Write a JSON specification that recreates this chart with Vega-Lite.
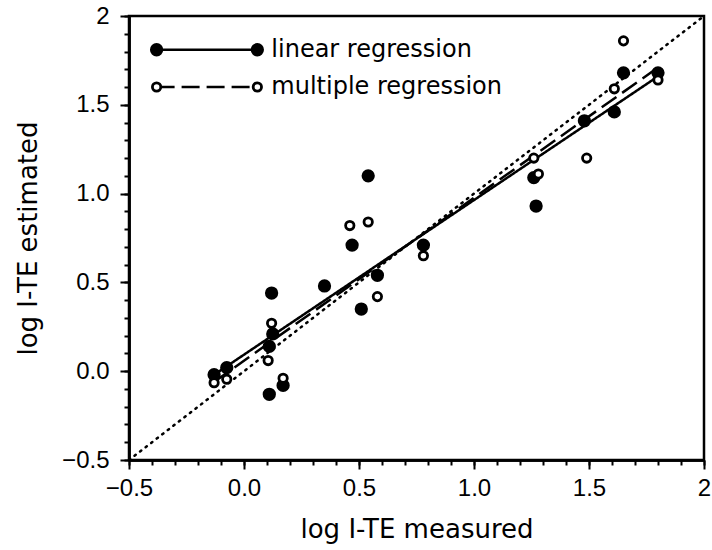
{
  "$schema": "https://vega.github.io/schema/vega-lite/v6.json",
  "width": 575,
  "height": 444,
  "autosize": "none",
  "padding": {"left": 129, "top": 16, "right": 8, "bottom": 90},
  "config": {
    "view": {"stroke": "black", "strokeWidth": 2.5},
    "font": "Liberation Sans",
    "axis": {
      "grid": false,
      "ticks": true,
      "domainColor": "black",
      "domainWidth": 2.5,
      "tickColor": "black",
      "tickWidth": 2,
      "labelColor": "black",
      "labelFontSize": 24,
      "labelFont": "Liberation Sans",
      "titleFont": "DejaVu Sans",
      "titleFontSize": 26,
      "titleFontWeight": "normal",
      "titleColor": "black",
      "labelOverlap": false,
      "labelFlush": false
    }
  },
  "datasets": {
    "points": [
      {"measured": -0.13, "estimated": -0.02, "method": "linear"},
      {"measured": -0.075, "estimated": 0.02, "method": "linear"},
      {"measured": 0.11, "estimated": -0.13, "method": "linear"},
      {"measured": 0.11, "estimated": 0.14, "method": "linear"},
      {"measured": 0.12, "estimated": 0.44, "method": "linear"},
      {"measured": 0.125, "estimated": 0.21, "method": "linear"},
      {"measured": 0.17, "estimated": -0.08, "method": "linear"},
      {"measured": 0.35, "estimated": 0.48, "method": "linear"},
      {"measured": 0.47, "estimated": 0.71, "method": "linear"},
      {"measured": 0.51, "estimated": 0.35, "method": "linear"},
      {"measured": 0.54, "estimated": 1.1, "method": "linear"},
      {"measured": 0.58, "estimated": 0.54, "method": "linear"},
      {"measured": 0.78, "estimated": 0.71, "method": "linear"},
      {"measured": 1.26, "estimated": 1.09, "method": "linear"},
      {"measured": 1.27, "estimated": 0.93, "method": "linear"},
      {"measured": 1.48, "estimated": 1.41, "method": "linear"},
      {"measured": 1.61, "estimated": 1.46, "method": "linear"},
      {"measured": 1.65, "estimated": 1.68, "method": "linear"},
      {"measured": 1.8, "estimated": 1.68, "method": "linear"},
      {"measured": -0.13, "estimated": -0.065, "method": "multiple"},
      {"measured": -0.075, "estimated": -0.045, "method": "multiple"},
      {"measured": 0.105, "estimated": 0.06, "method": "multiple"},
      {"measured": 0.12, "estimated": 0.27, "method": "multiple"},
      {"measured": 0.17, "estimated": -0.04, "method": "multiple"},
      {"measured": 0.46, "estimated": 0.82, "method": "multiple"},
      {"measured": 0.54, "estimated": 0.84, "method": "multiple"},
      {"measured": 0.58, "estimated": 0.42, "method": "multiple"},
      {"measured": 0.78, "estimated": 0.65, "method": "multiple"},
      {"measured": 1.26, "estimated": 1.2, "method": "multiple"},
      {"measured": 1.28, "estimated": 1.11, "method": "multiple"},
      {"measured": 1.49, "estimated": 1.2, "method": "multiple"},
      {"measured": 1.61, "estimated": 1.59, "method": "multiple"},
      {"measured": 1.65, "estimated": 1.86, "method": "multiple"},
      {"measured": 1.8, "estimated": 1.64, "method": "multiple"}
    ],
    "fits": [
      {"measured": -0.13, "estimated": -0.02, "method": "linear"},
      {"measured": 1.8, "estimated": 1.66, "method": "linear"},
      {"measured": -0.13, "estimated": -0.06, "method": "multiple"},
      {"measured": 1.8, "estimated": 1.71, "method": "multiple"}
    ],
    "identity": [
      {"measured": -0.5, "estimated": -0.5},
      {"measured": 2, "estimated": 2}
    ],
    "legendLines": [
      {"measured": -0.38, "estimated": 1.81, "method": "linear"},
      {"measured": 0.058, "estimated": 1.81, "method": "linear"},
      {"measured": -0.38, "estimated": 1.6, "method": "multiple"},
      {"measured": 0.058, "estimated": 1.6, "method": "multiple"}
    ],
    "legendText": [
      {"measured": 0.058, "estimated": 1.81, "label": "linear regression"},
      {"measured": 0.058, "estimated": 1.6, "label": "multiple regression"}
    ]
  },
  "resolve": {"axis": {"x": "independent", "y": "independent"}},
  "layer": [
    {
      "data": {"name": "identity"},
      "mark": {"type": "line", "color": "black", "strokeWidth": 2.5, "strokeDash": [1.5, 5.5], "strokeCap": "round"},
      "encoding": {
        "x": {
          "field": "measured", "type": "quantitative",
          "scale": {"domain": [-0.5, 2], "nice": false, "zero": false},
          "axis": {
            "orient": "bottom",
            "values": [-0.5,-0.4,-0.3,-0.2,-0.1,0,0.1,0.2,0.3,0.4,0.5,0.6,0.7,0.8,0.9,1,1.1,1.2,1.3,1.4,1.5,1.6,1.7,1.8,1.9,2],
            "tickSize": 5,
            "labels": false,
            "title": null
          }
        },
        "y": {
          "field": "estimated", "type": "quantitative",
          "scale": {"domain": [-0.5, 2], "nice": false, "zero": false},
          "axis": {
            "orient": "left",
            "values": [-0.5,-0.4,-0.3,-0.2,-0.1,0,0.1,0.2,0.3,0.4,0.5,0.6,0.7,0.8,0.9,1,1.1,1.2,1.3,1.4,1.5,1.6,1.7,1.8,1.9,2],
            "tickSize": 5,
            "labels": false,
            "title": null
          }
        }
      }
    },
    {
      "data": {"name": "fits"},
      "mark": {"type": "line", "color": "black", "strokeWidth": 2.5},
      "encoding": {
        "x": {
          "field": "measured", "type": "quantitative",
          "title": "log I-TE measured",
          "axis": {
            "orient": "bottom",
            "values": [-0.5, 0, 0.5, 1, 1.5, 2],
            "tickSize": 9,
            "labelExpr": "datum.value == 2 ? '2' : format(datum.value, '.1f')",
            "labelPadding": 7,
            "titlePadding": 16
          }
        },
        "y": {
          "field": "estimated", "type": "quantitative",
          "title": "log I-TE estimated",
          "axis": {
            "orient": "left",
            "values": [-0.5, 0, 0.5, 1, 1.5, 2],
            "tickSize": 9,
            "labelExpr": "datum.value == 2 ? '2' : format(datum.value, '.1f')",
            "labelPadding": 11,
            "titlePadding": 20
          }
        },
        "detail": {"field": "method"},
        "strokeDash": {
          "field": "method", "type": "nominal",
          "scale": {"domain": ["linear", "multiple"], "range": [[1, 0], [18, 7]]},
          "legend": null
        }
      }
    },
    {
      "data": {"name": "legendLines"},
      "mark": {"type": "line", "color": "black", "strokeWidth": 2.5},
      "encoding": {
        "x": {"field": "measured", "type": "quantitative", "axis": null},
        "y": {"field": "estimated", "type": "quantitative", "axis": null},
        "detail": {"field": "method"},
        "strokeDash": {
          "field": "method", "type": "nominal",
          "scale": {"domain": ["linear", "multiple"], "range": [[1, 0], [14, 7]]},
          "legend": null
        }
      }
    },
    {
      "data": {"name": "legendLines"},
      "mark": {"type": "point", "shape": "circle", "strokeWidth": 2.8, "opacity": 1},
      "encoding": {
        "x": {"field": "measured", "type": "quantitative", "axis": null},
        "y": {"field": "estimated", "type": "quantitative", "axis": null},
        "fill": {
          "field": "method", "type": "nominal",
          "scale": {"domain": ["linear", "multiple"], "range": ["black", "white"]},
          "legend": null
        },
        "size": {
          "field": "method", "type": "nominal",
          "scale": {"domain": ["linear", "multiple"], "range": [110, 70]},
          "legend": null
        },
        "stroke": {"value": "black"}
      }
    },
    {
      "data": {"name": "points"},
      "mark": {"type": "point", "shape": "circle", "strokeWidth": 2.8, "opacity": 1},
      "encoding": {
        "x": {"field": "measured", "type": "quantitative", "axis": null},
        "y": {"field": "estimated", "type": "quantitative", "axis": null},
        "fill": {
          "field": "method", "type": "nominal",
          "scale": {"domain": ["linear", "multiple"], "range": ["black", "white"]},
          "legend": null
        },
        "size": {
          "field": "method", "type": "nominal",
          "scale": {"domain": ["linear", "multiple"], "range": [115, 95]},
          "legend": null
        },
        "stroke": {"value": "black"}
      }
    },
    {
      "data": {"name": "legendText"},
      "mark": {"type": "text", "align": "left", "baseline": "middle", "dx": 14, "fontSize": 24, "font": "DejaVu Sans", "color": "black"},
      "encoding": {
        "x": {"field": "measured", "type": "quantitative", "axis": null},
        "y": {"field": "estimated", "type": "quantitative", "axis": null},
        "text": {"field": "label"}
      }
    }
  ]
}
